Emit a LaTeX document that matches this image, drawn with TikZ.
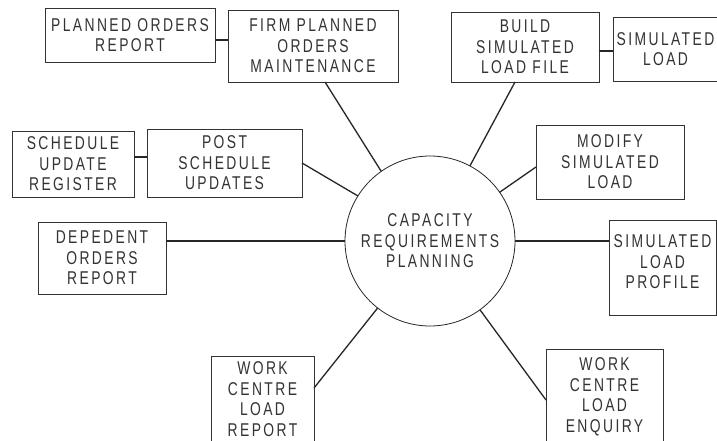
\documentclass[tikz,border=0pt]{standalone}
\usepackage{fontspec}
\newfontfamily\lblfont[FakeStretch=0.75,LetterSpace=13]{Liberation Sans}
\begin{document}
\begin{tikzpicture}[x=1pt,y=-1pt,
  lbl/.style={inner sep=0pt, outer sep=0pt, align=center,
    font=\lblfont\fontsize{18.5}{20.5}\selectfont, text=black!80},
  box/.style={lbl, draw=black!80, line width=0.9pt},
  lower/.style={execute at begin node={\rule{0pt}{#1}}},
  lower/.default=21.5pt,
  raise/.style={execute at end node={\rule[-#1]{0pt}{#1}}},
  conn/.style={draw=black!85, line width=1.3pt}]
\clip (0,0) rectangle (717,441);
\fill[white] (0,0) rectangle (717,441);
% boxes
\node[box, lower, minimum width=170pt, minimum height=54pt] (por) at (130,35) {PLANNED ORDERS\\REPORT};
\node[box, lower, minimum width=170pt, minimum height=72pt] (firm) at (313,46) {FIRM PLANNED\\ORDERS\\MAINTENANCE};
\node[box, lower, minimum width=148pt, minimum height=70pt] (build) at (525,47) {BUILD\\SIMULATED\\LOAD FILE};
\node[box, lower=22.5pt, minimum width=105pt, minimum height=64pt] (simload) at (665.5,49) {\makebox[80pt]{SIMULATED}\\LOAD};
\node[box, lower=18pt, minimum width=122pt, minimum height=66pt] (sur) at (73,164) {SCHEDULE\\UPDATE\\REGISTER};
\node[box, lower, minimum width=155pt, minimum height=68pt] (post) at (224.5,163) {POST\\SCHEDULE\\UPDATES};
\node[box, lower=19.5pt, minimum width=128pt, minimum height=72pt] (dep) at (102,258) {DEPEDENT\\ORDERS\\REPORT};
\node[box, lower, minimum width=148pt, minimum height=74pt] (modify) at (610,162) {MODIFY\\SIMULATED\\LOAD};
\node[box, raise=11pt, minimum width=107pt, minimum height=95pt] (slp) at (662.5,267.5) {SIMULATED\\LOAD\\PROFILE};
\node[box, minimum width=103pt, minimum height=86pt] (wclr) at (262.5,399) {WORK\\CENTRE\\LOAD\\REPORT};
\node[box, minimum width=117pt, minimum height=96pt] (enq) at (604.5,397) {WORK\\CENTRE\\LOAD\\ENQUIRY};
% centre
\node[lbl, lower=33.5pt, circle, draw=black!85, line width=0.8pt, minimum size=170pt] (crp) at (430,241) {CAPACITY\\REQUIREMENTS\\PLANNING};
% connectors
\draw[conn] ([yshift=-5pt]por.east) -- ([yshift=-5pt]por.east -| firm.west);
\draw[conn] ([yshift=-2pt]simload.west) -- ([yshift=-2pt]simload.west -| build.east);
\draw[conn] ([yshift=7pt]sur.east) -- ([yshift=7pt]sur.east -| post.west);
\draw[conn] ([xshift=12pt]firm.south) -- (crp.125);
\draw[conn] ([xshift=-10pt]build.south) -- (crp.62);
\draw[conn] (post.east) -- (crp.148);
\draw[conn] ([yshift=-5pt]modify.west) -- (crp.35);
\draw[conn] (crp.west) -- (crp.west -| dep.east);
\draw[conn] (crp.east) -- (crp.east -| slp.west);
\draw[conn] ([yshift=11pt]wclr.east) -- (crp.232);
\draw[conn] ([yshift=-3pt]enq.west) -- (crp.306);
\end{tikzpicture}
\end{document}
